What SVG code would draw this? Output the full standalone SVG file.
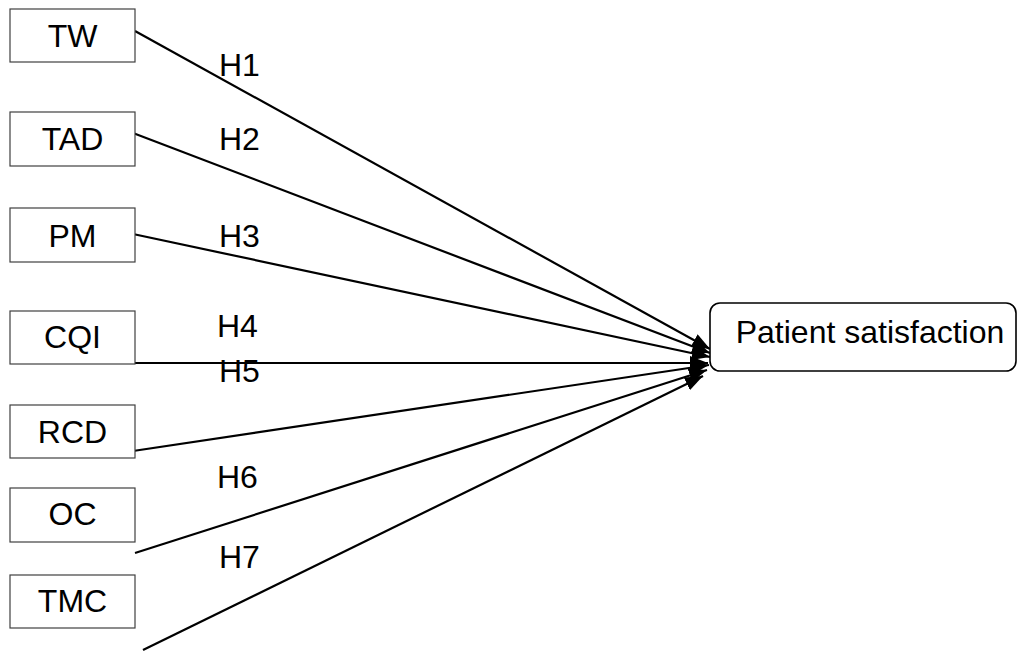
<svg xmlns="http://www.w3.org/2000/svg" width="1020" height="652" viewBox="0 0 1020 652">
<style>
.box{fill:#fff;stroke:#404040;stroke-width:1.2}
.main{fill:#fff;stroke:#000;stroke-width:1.6}
.t{font-family:"Liberation Sans",Arial,sans-serif;font-size:32px;fill:#000}
.c{text-anchor:middle}
.ln{stroke:#000;stroke-width:2.2;fill:none;marker-end:url(#ah)}
</style>
<defs>
<marker id="ah" viewBox="0 0 18 14" refX="18" refY="7" markerWidth="18" markerHeight="14" markerUnits="userSpaceOnUse" orient="auto">
<path d="M0,0 L18,7 L0,14 Z" fill="#000"/>
</marker>
</defs>
<g id="connectors">
<line class="ln" x1="135" y1="31" x2="710" y2="349"/>
<line class="ln" x1="133" y1="133" x2="710" y2="353"/>
<line class="ln" x1="133" y1="234" x2="710" y2="357"/>
<line class="ln" x1="133" y1="363" x2="708" y2="363"/>
<line class="ln" x1="133" y1="451" x2="709" y2="365"/>
<line class="ln" x1="135" y1="553" x2="707" y2="370"/>
<line class="ln" x1="143" y1="650" x2="703" y2="376"/>
</g>
<g id="labels">
<text class="t" x="219" y="76">H1</text>
<text class="t" x="219" y="150">H2</text>
<text class="t" x="219" y="247">H3</text>
<text class="t" x="217" y="337">H4</text>
<text class="t" x="219" y="382">H5</text>
<text class="t" x="217" y="488">H6</text>
<text class="t" x="219" y="568">H7</text>
</g>
<g id="TW"><rect class="box" x="10" y="9" width="125" height="53"/><text class="t c" x="72.5" y="47">TW</text></g>
<g id="TAD"><rect class="box" x="10" y="112" width="125" height="54"/><text class="t c" x="72.5" y="150">TAD</text></g>
<g id="PM"><rect class="box" x="10" y="208" width="125" height="54"/><text class="t c" x="72.5" y="247">PM</text></g>
<g id="CQI"><rect class="box" x="10" y="311" width="125" height="53"/><text class="t c" x="72.5" y="348">CQI</text></g>
<g id="RCD"><rect class="box" x="10" y="405" width="125" height="53"/><text class="t c" x="72.5" y="443">RCD</text></g>
<g id="OC"><rect class="box" x="10" y="488" width="125" height="54"/><text class="t c" x="72.5" y="525">OC</text></g>
<g id="TMC"><rect class="box" x="10" y="575" width="125" height="53"/><text class="t c" x="72.5" y="612">TMC</text></g>
<g id="patient"><rect class="main" x="710" y="303" width="306" height="68" rx="10"/><text class="t c" x="870" y="343">Patient satisfaction</text></g>
</svg>
